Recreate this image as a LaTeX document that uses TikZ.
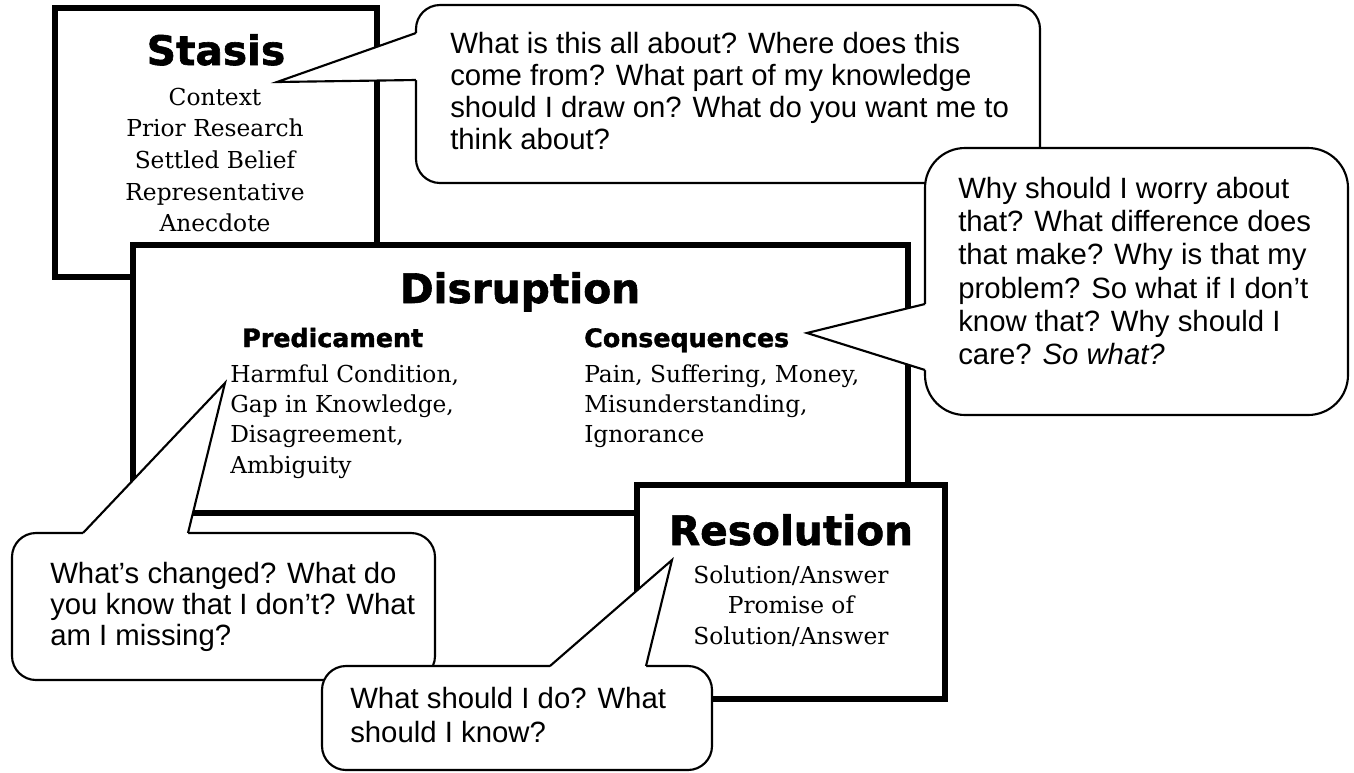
\documentclass[tikz,border=0pt]{standalone}
\usepackage{fontspec}
\setmainfont{Liberation Sans}
\newfontfamily\titlefont{DejaVu Sans}[BoldFeatures={FakeBold=1.5}]
\newfontfamily\seriffont{DejaVu Serif}
\newcommand\schola{\seriffont\fontsize{17.5}{22}\selectfont}
\newcommand\llines[3]{{\fontsize{#1}{#2}\selectfont\begin{tabular}[t]{@{}l@{}}#3\end{tabular}}}
\newcommand\clines[3]{{\fontsize{#1}{#2}\selectfont\begin{tabular}[t]{@{}c@{}}#3\end{tabular}}}
\newcommand\bigtitle{\titlefont\bfseries\fontsize{30.5}{36}\selectfont}
\newcommand\subtitle{\titlefont\bfseries\fontsize{19}{22}\selectfont}
\begin{document}
\begin{tikzpicture}[x=0.75pt,y=-0.75pt,
  thickbox/.style={line width=3.8pt, fill=white},
  bub/.style={line width=1.6pt, fill=white, rounded corners=#1},
  bub/.default=18pt,
  tailfill/.style={fill=white},
  tailline/.style={line width=1.6pt, line join=miter},
  txt/.style={inner sep=0pt, anchor=base west},
  ctxt/.style={inner sep=0pt, anchor=base}]
\useasboundingbox (0,0) rectangle (1354,772);

% boxes
\draw[thickbox] (55,8) rectangle (377,277);
\draw[thickbox] (133,245) rectangle (908,513);
\draw[thickbox] (637,485) rectangle (945,699);

% box texts
\node[ctxt] (stasisT) at (216,65) {\bigtitle Stasis};
\node[ctxt] (stasisL) at (215,105) {\schola\clines{17.5}{23.8}{Context\\Prior Research\\Settled Belief\\Representative\\Anecdote}};
\node[ctxt] (disT) at (520,303) {\bigtitle Disruption};
\node[txt] (predT) at (242,347) {\subtitle Predicament};
\node[txt] (consT) at (584,347) {\subtitle Consequences};
\node[txt] (predL) at (230,382) {\schola\llines{17.5}{22.8}{Harmful Condition,\\Gap in Knowledge,\\Disagreement,\\Ambiguity}};
\node[txt] (consL) at (584,382) {\schola\llines{17.5}{22.8}{Pain, Suffering, Money,\\Misunderstanding,\\Ignorance}};
\node[ctxt] (resT) at (791,545) {\bigtitle Resolution};
\node[ctxt] (resL) at (791,583) {\schola\clines{17.5}{23.2}{Solution/Answer\\Promise of\\Solution/Answer}};

% bubble 1
\coordinate (t1a) at (416,33); \coordinate (t1tip) at (277,82); \coordinate (t1b) at (416,80);
\draw[bub] (416,5) rectangle (1040,183);
\fill[tailfill] (t1a) -- (t1tip) -- (t1b) -- (421,80) -- (421,33) -- cycle;
\draw[tailline] (t1a) -- (t1tip) -- (t1b);
\node[txt] (b1) at (450,53) {\llines{22}{24}{What is this all about? Where does this\\come from? What part of my knowledge\\should I draw on? What do you want me to\\think about?}};

% bubble 2
\coordinate (t2a) at (925,304); \coordinate (t2tip) at (807,333); \coordinate (t2b) at (925,370);
\draw[bub=30pt] (925,148) rectangle (1348,415);
\fill[tailfill] (t2a) -- (t2tip) -- (t2b) -- (930,370) -- (930,304) -- cycle;
\draw[tailline] (t2a) -- (t2tip) -- (t2b);
\node[txt] (b2) at (958,198) {\llines{22}{25}{Why should I worry about\\that? What difference does\\that make? Why is that my\\problem? So what if I don’t\\know that? Why should I\\care? \textit{So what?}}};

% bubble 3
\coordinate (t3a) at (83,533); \coordinate (t3tip) at (225,383); \coordinate (t3b) at (188,533);
\draw[bub] (12,533) rectangle (435,680);
\fill[tailfill] (t3a) -- (t3tip) -- (t3b) -- (188,538) -- (83,538) -- cycle;
\draw[tailline] (t3a) -- (t3tip) -- (t3b);
\node[txt] (b3) at (50,583) {\llines{22}{23.3}{What’s changed? What do\\you know that I don’t? What\\am I missing?}};

% bubble 4
\coordinate (t4a) at (550,666); \coordinate (t4tip) at (672,560); \coordinate (t4b) at (646,666);
\draw[bub] (322,666) rectangle (712,770);
\fill[tailfill] (t4a) -- (t4tip) -- (t4b) -- (646,671) -- (550,671) -- cycle;
\draw[tailline] (t4a) -- (t4tip) -- (t4b);
\node[txt] (b4) at (350,708) {\llines{22}{25.5}{What should I do? What\\should I know?}};
\end{tikzpicture}
\end{document}
